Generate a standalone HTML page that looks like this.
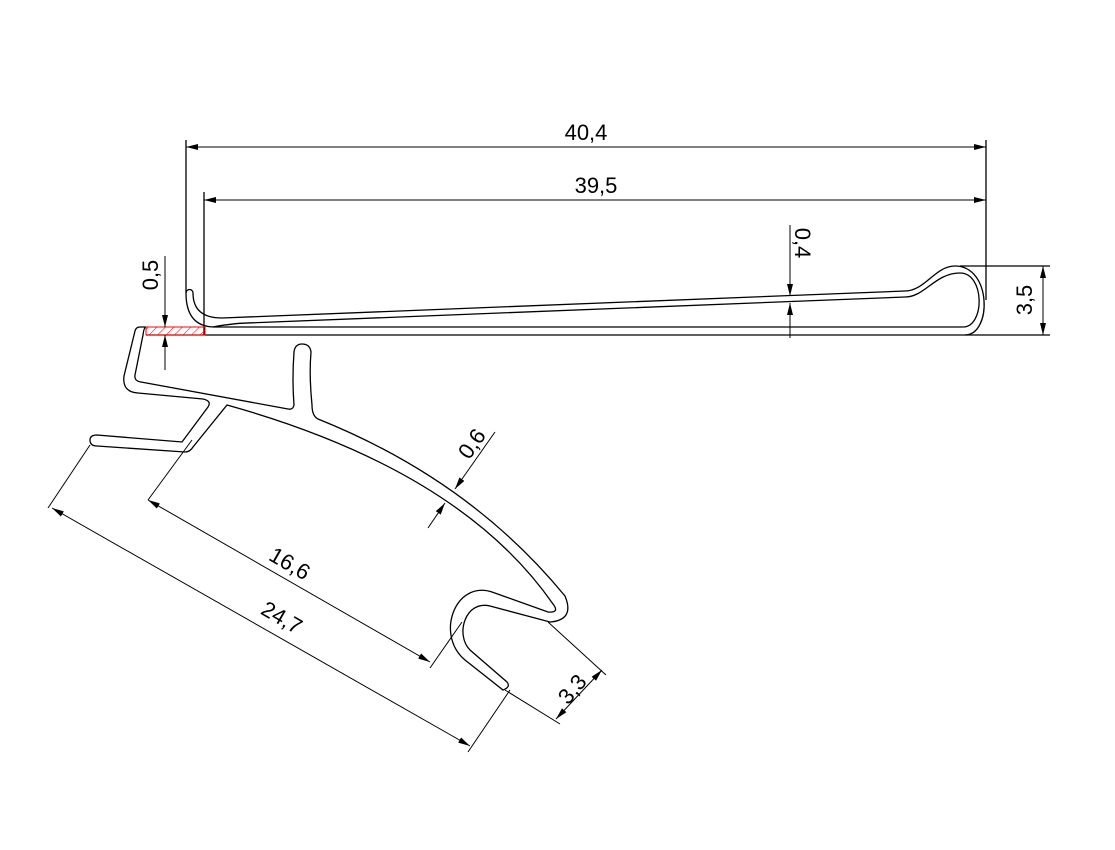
<!DOCTYPE html>
<html><head><meta charset="utf-8"><style>
html,body{margin:0;padding:0;background:#fff;}
svg{display:block;}
text{font-family:"Liberation Sans",sans-serif;font-size:22px;fill:#000;}
</style></head><body>
<svg width="1115" height="850" viewBox="0 0 1115 850" xmlns="http://www.w3.org/2000/svg">
<defs>
<marker id="a" viewBox="0 0 12 6" refX="12" refY="3" markerWidth="12" markerHeight="6" markerUnits="userSpaceOnUse" orient="auto-start-reverse">
<path d="M0,0 L12,3 L0,6 Z" fill="#000"/></marker>
<pattern id="h" width="6" height="6" patternUnits="userSpaceOnUse" patternTransform="rotate(45)">
<line x1="0" y1="0" x2="0" y2="6" stroke="#f00" stroke-width="1"/></pattern>
</defs>
<g fill="none" stroke="#000" stroke-width="1.3">
<!-- upper profile -->
<path d="M905,291 L222,318 Q193,318 193,293 A3.5,3.5 0 0 0 186,293 Q186,327 215,327 L963,327"/>
<path d="M213,327 Q222,325 240,323.3 L905,297 C925,297 935,273 960,273 C985,273 985,327 963,327"/>
<path d="M905,291 C925,291 935,266 955,266 C992,266 992,335 965,335"/>
<line x1="146" y1="335" x2="1050" y2="335"/>
<line x1="186" y1="140" x2="186" y2="293"/>
<line x1="204" y1="192" x2="204" y2="335"/>
<line x1="986" y1="140" x2="986" y2="300"/>
<line x1="960" y1="266" x2="1050" y2="266"/>
<!-- lower profile -->
<path d="M146,327 L140,327 Q136,327 135,331 L124,376 Q122,392 138,393 L203,399 Q212,401 208,407 L182,442 L97,435 Q90,435 90,440 Q90,446 97,446 L185,452 Q190,452 193,447 L227,405 Q460,470 553,604 Q560,613 548,612 L492,592 C455,580 435,635 465,660 L503,690 Q511,687 507,682 L470,650 C455,635 465,600 490,606 L550,622 Q575,620 565,596 Q470,480 318,419 Q312,416 312,405 Q309,375 311,352 Q310,344 302,344 Q295,344 294,352 Q292,380 294,405 Q293,410 288,409 L141,382 Q134,381 135,375 L143,335 Q144,327 146,327"/>
<rect x="146" y="327" width="59" height="8" fill="url(#h)" stroke="#f00" stroke-width="1"/>
</g>
<g fill="none" stroke="#000" stroke-width="1">
<!-- dims -->
<line x1="186" y1="147" x2="986" y2="147" marker-start="url(#a)" marker-end="url(#a)"/>
<line x1="204" y1="200" x2="986" y2="200" marker-start="url(#a)" marker-end="url(#a)"/>
<line x1="790" y1="225" x2="790" y2="296" marker-end="url(#a)"/>
<line x1="790" y1="338" x2="790" y2="303" marker-end="url(#a)"/>
<line x1="165" y1="256" x2="165" y2="327" marker-end="url(#a)"/>
<line x1="165" y1="370" x2="165" y2="335" marker-end="url(#a)"/>
<line x1="1043" y1="266" x2="1043" y2="335" marker-start="url(#a)" marker-end="url(#a)"/>
<line x1="495" y1="432" x2="455" y2="489" marker-end="url(#a)"/>
<line x1="428" y1="528" x2="445" y2="503" marker-end="url(#a)"/>
<line x1="148" y1="500" x2="430" y2="662" marker-start="url(#a)" marker-end="url(#a)"/>
<line x1="148" y1="500" x2="192" y2="440"/>
<line x1="430" y1="668" x2="462" y2="622"/>
<line x1="52" y1="508" x2="470" y2="746" marker-start="url(#a)" marker-end="url(#a)"/>
<line x1="48" y1="508" x2="90" y2="445"/>
<line x1="468" y1="752" x2="510" y2="690"/>
<line x1="556" y1="719" x2="602" y2="670" marker-start="url(#a)" marker-end="url(#a)"/>
<line x1="548" y1="622" x2="606" y2="675"/>
<line x1="505" y1="690" x2="560" y2="724"/>
</g>
<text x="586" y="140" text-anchor="middle">40,4</text>
<text x="596" y="193" text-anchor="middle">39,5</text>
<text transform="translate(795,243) rotate(90)" text-anchor="middle">0,4</text>
<text transform="translate(158,275) rotate(-90)" text-anchor="middle">0,5</text>
<text transform="translate(1032,300) rotate(-90)" text-anchor="middle">3,5</text>
<text transform="translate(478,448) rotate(-55)" text-anchor="middle">0,6</text>
<text transform="translate(286,570) rotate(30)" text-anchor="middle">16,6</text>
<text transform="translate(278,624) rotate(30)" text-anchor="middle">24,7</text>
<text transform="translate(578,694) rotate(-50)" text-anchor="middle">3,3</text>
</svg>
</body></html>
